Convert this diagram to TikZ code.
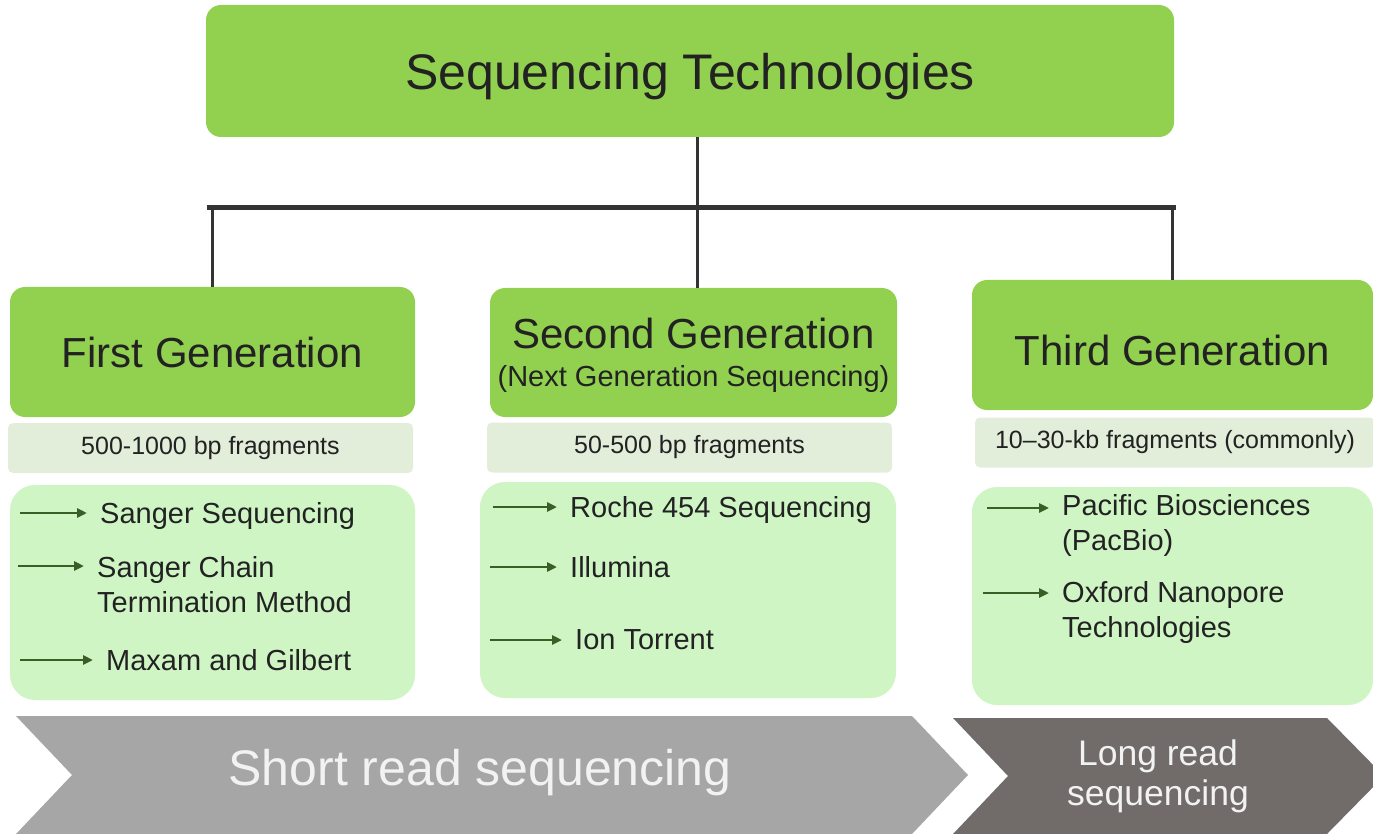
\documentclass[tikz,border=0pt]{standalone}
\usepackage{fontspec}
\setmainfont{Liberation Sans}
\usetikzlibrary{positioning}
\usetikzlibrary{arrows.meta}
\definecolor{headgreen}{HTML}{92D050}
\definecolor{fraggray}{HTML}{E2EDDA}
\definecolor{listgreen}{HTML}{CFF5C5}
\definecolor{arrowgreen}{HTML}{3B5E27}
\definecolor{linegray}{HTML}{333333}
\definecolor{textdark}{HTML}{222222}
\definecolor{shortgray}{HTML}{A6A6A6}
\definecolor{longgray}{HTML}{716C6A}
\definecolor{chevwhite}{HTML}{F2F2F2}
\tikzset{
    headnode/.style = {rectangle, rounded corners=15pt, fill=headgreen, text=textdark, align=center, inner sep=0pt, text depth=0pt, font=\fontsize{42}{50}\selectfont},
    fragnode/.style = {rectangle, rounded corners=5pt, fill=fraggray, text=textdark, inner sep=0pt, minimum height=50pt, font=\fontsize{25}{30}\selectfont},
    listbox/.style = {rectangle, rounded corners=25pt, fill=listgreen, inner sep=0pt},
    itemnode/.style = {anchor=base west, align=left, inner sep=0pt, text=textdark, font=\fontsize{29}{35}\selectfont},
    itemarrow/.style = {-{Triangle[length=10pt,width=9pt]}, line width=2.6pt, draw=arrowgreen, shorten >=13pt},
    edgen/.style = {line width=3pt, draw=linegray},
    edgebus/.style = {line width=5pt, draw=linegray, shorten <=-6pt, shorten >=-3pt},
    chevshort/.style = {fill=shortgray},
    chevlong/.style = {fill=longgray},
    chevtext/.style = {text=chevwhite, align=center, inner sep=0pt}
}

\begin{document}
\begin{tikzpicture}[x=1pt, y=-1pt]
\useasboundingbox (0,0) rectangle (1373,834);
%
\node[headnode, minimum width=968pt, minimum height=132pt, font=\fontsize{50}{60}\selectfont] at (690, 71) (top) {Sequencing Technologies};
%
\node[headnode, minimum width=405pt, minimum height=130pt] at (212.5, 352) (g1) {First Generation};
\node[headnode, minimum width=407pt, minimum height=129pt] at (693.5, 352.5) (g2) {Second Generation\\[-12pt]{\fontsize{29}{35}\selectfont (Next Generation Sequencing)}};
\node[headnode, minimum width=401pt, minimum height=130pt, text height=41pt] at (1172.5, 345) (g3) {Third Generation};
%
\node[fragnode, minimum width=405pt] at (210.5, 448) (f1) {500-1000 bp fragments};
\node[fragnode, minimum width=405pt] at (689.5, 447.5) (f2) {50-500 bp fragments};
\node[fragnode, minimum width=400pt] at (1175, 442.5) (f3) {10–30-kb fragments (commonly)};
%
\node[listbox, minimum width=405pt, minimum height=215pt] at (212.5, 592.5) (l1) {};
\node[listbox, minimum width=416pt, minimum height=216pt] at (688, 590) (l2) {};
\node[listbox, minimum width=401pt, minimum height=218pt] at (1172.5, 596) (l3) {};
%
\node[itemnode] at (100, 523) (i11) {Sanger Sequencing};
\node[itemnode] at (97, 612) (i12) {Sanger Chain\\Termination Method};
\node[itemnode] at (106, 670) (i13) {Maxam and Gilbert};
\node[itemnode] at (570, 517) (i21) {Roche 454 Sequencing};
\node[itemnode] at (570, 577) (i22) {Illumina};
\node[itemnode] at (575, 649) (i23) {Ion Torrent};
\node[itemnode] at (1062, 550) (i31) {Pacific Biosciences\\(PacBio)};
\node[itemnode] at (1062, 637) (i32) {Oxford Nanopore\\Technologies};
%
\coordinate (t11) at (20, 513);
\coordinate (t12) at (18, 566);
\coordinate (t13) at (20, 660);
\coordinate (t21) at (493, 507);
\coordinate (t22) at (490, 567);
\coordinate (t23) at (490, 640);
\coordinate (t31) at (987, 508);
\coordinate (t32) at (983, 593);
%
\draw[itemarrow] (t11) -- (t11 -| i11.west);
\draw[itemarrow] (t12) -- (t12 -| i12.west);
\draw[itemarrow] (t13) -- (t13 -| i13.west);
\draw[itemarrow] (t21) -- (t21 -| i21.west);
\draw[itemarrow] (t22) -- (t22 -| i22.west);
\draw[itemarrow] (t23) -- (t23 -| i23.west);
\draw[itemarrow] (t31) -- (t31 -| i31.west);
\draw[itemarrow] (t32) -- (t32 -| i32.west);
%
\coordinate (bus) at (697, 208);
\draw[edgen] (top.south -| bus) -- (bus);
\draw[edgebus] (bus -| g1.north) -- (bus -| g3.north);
\draw[edgen] (bus -| g1.north) -- (g1.north);
\draw[edgen] (bus) -- (bus |- g2.north);
\draw[edgen] (bus -| g3.north) -- (g3.north);
%
\fill[chevshort] (16,716) -- (912,716) -- (968,775) -- (912,834) -- (16,834) -- (72,775) -- cycle;
\fill[chevlong] (953,718) -- (1327,718) -- (1384,776) -- (1327,834) -- (953,834) -- (1008,776) -- cycle;
\node[chevtext, font=\fontsize{50}{60}\selectfont] at (480, 773) (sr) {Short read sequencing};
\node[chevtext, font=\fontsize{35.5}{40}\selectfont] at (1158, 776) (lr) {Long read\\sequencing};

\end{tikzpicture}
\end{document}
